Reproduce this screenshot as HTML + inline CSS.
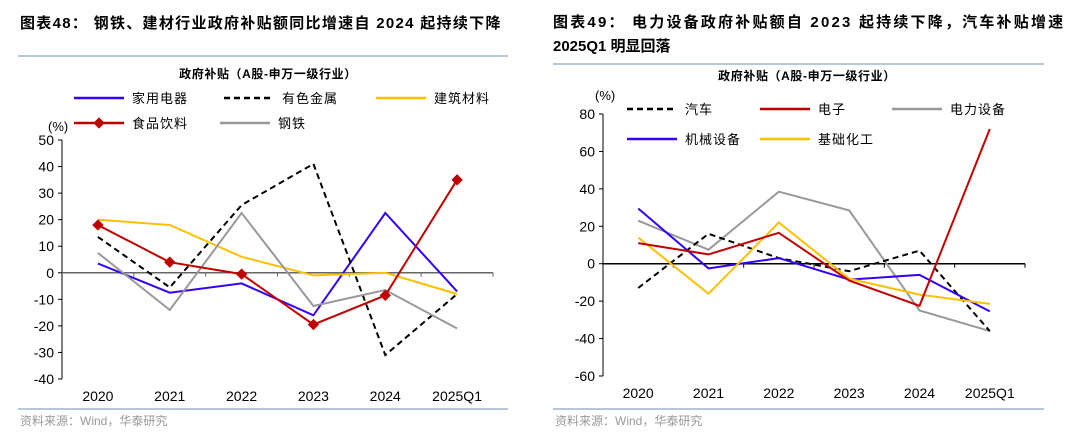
<!DOCTYPE html>
<html><head><meta charset="utf-8">
<style>
html,body{margin:0;padding:0;background:#fff;}
svg{display:block;font-family:"Liberation Sans","Noto Sans CJK SC",sans-serif;}
</style></head>
<body>
<svg id="c" width="1080" height="440" viewBox="0 0 1080 440" xmlns="http://www.w3.org/2000/svg">
<g>
<text x="20" y="28" font-size="15" font-weight="bold" letter-spacing="1.3" fill="#000">图表48：  钢铁、建材行业政府补贴额同比增速自 2024 起持续下降</text>
<line x1="18" y1="56" x2="508" y2="56" stroke="#9fb3cf" stroke-width="1.5"/>
<text x="268" y="78" font-size="12" font-weight="bold" letter-spacing="0.6" text-anchor="middle" fill="#000">政府补贴（A股-申万一级行业）</text>
<text x="48" y="131" font-size="13" fill="#000">(%)</text>
</g>
<g>
<text x="553" y="27" font-size="15" font-weight="bold" letter-spacing="2.2" fill="#000">图表49：  电力设备政府补贴额自  2023  起持续下降，汽车补贴增速</text>
<text x="553" y="51" font-size="15" font-weight="bold" fill="#000">2025Q1 明显回落</text>
<line x1="553" y1="64" x2="1044" y2="64" stroke="#9fb3cf" stroke-width="1.5"/>
<text x="807" y="80" font-size="12" font-weight="bold" letter-spacing="0.6" text-anchor="middle" fill="#000">政府补贴（A股-申万一级行业）</text>
<text x="595" y="100" font-size="13" fill="#000">(%)</text>
</g>
<line x1="18" y1="409" x2="508" y2="409" stroke="#9fb3cf" stroke-width="1.5"/>
<text x="20" y="425" font-size="12" fill="#999">资料来源：Wind，华泰研究</text>
<line x1="553" y1="409" x2="1044" y2="409" stroke="#9fb3cf" stroke-width="1.5"/>
<text x="555" y="425" font-size="12" fill="#999">资料来源：Wind，华泰研究</text>
</svg>
<script>
const categories = ["2020","2021","2022","2023","2024","2025Q1"];
const leftTicks = [50,40,30,20,10,0,-10,-20,-30,-40];
const leftHome = [3.5,-7.5,-4,-16,22.5,-7];
const leftMetal = [13.5,-5.5,25.5,41,-31,-8];
const leftBuild = [20,18,6,-1,0,-8];
const leftFood = [18,4,-0.5,-19.5,-8.5,35];
const leftSteel = [7.5,-14,22.5,-12.5,-6.5,-21];
const rightTicks = [80,60,40,20,0,-20,-40,-60];
const rightAuto = [-13,16,3,-4,7,-36];
const rightElec = [11,5,16.5,-9,-22.5,72];
const rightPower = [23,7.5,38.5,28.5,-25,-36];
const rightMach = [29.5,-2.5,3,-8.5,-6,-25.5];
const rightChem = [14,-16,22,-8,-16.5,-21.5];

const NS="http://www.w3.org/2000/svg";
const svg=document.getElementById('c');
function mk(tag,attrs,parent){const e=document.createElementNS(NS,tag);for(const k in attrs)e.setAttribute(k,attrs[k]);(parent||svg).appendChild(e);return e;}

function drawChart(cfg){
  const g=mk('g',{});
  
  
  const yMax=cfg.ticks[0], yMin=cfg.ticks[cfg.ticks.length-1];
  const y=v=>cfg.yTop+(yMax-v)/(yMax-yMin)*(cfg.yBot-cfg.yTop);
  const bw=(cfg.xR-cfg.xL)/categories.length;
  const x=i=>cfg.xL+bw*(i+0.5);
  const ya=mk('line',{x1:cfg.xL,y1:cfg.yTop,x2:cfg.xL,y2:cfg.yBot,stroke:'#000','stroke-width':1},g);
  
  
  cfg.ticks.forEach(t=>{
    const tk=mk('line',{x1:cfg.xL-4,y1:y(t),x2:cfg.xL,y2:y(t),stroke:'#000'},g);
    
    
    const tl=mk('text',{x:cfg.xL-8,y:y(t)+5,'font-size':14,'text-anchor':'end',fill:'#000'},g);
    tl.textContent=t;
    
    
  });
  const xa=mk('line',{x1:cfg.xL,y1:y(0),x2:cfg.xR,y2:y(0),stroke:cfg.zeroColor,'stroke-width':1.5},g);
  
  
  for(let i=1;i<=categories.length;i++){
    const tk=mk('line',{x1:cfg.xL+bw*i,y1:y(0),x2:cfg.xL+bw*i,y2:y(0)+4,stroke:cfg.zeroColor},g);
    
    
  }
  categories.forEach((c,i)=>{
    const tl=mk('text',{x:x(i),y:cfg.labelY,'font-size':14,'text-anchor':'middle',fill:'#000'},g);
    tl.textContent=c;
    
    
  });
  cfg.series.forEach(s=>{
    const pts=s.data.map((v,i)=>x(i).toFixed(1)+','+y(v).toFixed(1)).join(' ');
    const pl=mk('polyline',{points:pts,fill:'none',stroke:s.color,'stroke-width':2,'stroke-dasharray':s.dash||'none'},g);
    
    
    if(s.marker){s.data.forEach((v,i)=>{
      const m=mk('rect',{x:x(i)-4,y:y(v)-4,width:8,height:8,fill:s.color,transform:`rotate(45 ${x(i)} ${y(v)})`},g);
      
      
    });}
    const lg=mk('g',{},g);
    
    
    mk('line',{x1:s.lx,y1:s.ly,x2:s.lx+50,y2:s.ly,stroke:s.color,'stroke-width':2.5,'stroke-dasharray':s.dash||'none'},lg);
    if(s.marker) mk('rect',{x:s.lx+21,y:s.ly-4,width:8,height:8,fill:s.color,transform:`rotate(45 ${s.lx+25} ${s.ly})`},lg);
    const t=mk('text',{x:s.lx+58,y:s.ly+5,'font-size':13,'letter-spacing':1,fill:'#000'},lg);
    t.textContent=s.name;
  });
}

drawChart({id:'left',ticks:leftTicks,xL:62,xR:493,yTop:140,yBot:379,labelY:401,zeroColor:'#666',series:[
  {key:'home-appliance',name:'家用电器',data:leftHome,color:'#3300ff',lx:74,ly:98},
  {key:'nonferrous-metal',name:'有色金属',data:leftMetal,color:'#000',dash:'6,4',lx:224,ly:98},
  {key:'building-material',name:'建筑材料',data:leftBuild,color:'#ffc000',lx:376,ly:98},
  {key:'steel',name:'钢铁',data:leftSteel,color:'#999',lx:220,ly:123},
  {key:'food-beverage',name:'食品饮料',data:leftFood,color:'#c00000',marker:true,lx:74,ly:123}
]});
drawChart({id:'right',ticks:rightTicks,xL:603,xR:1025,yTop:114,yBot:376,labelY:398,zeroColor:'#000',series:[
  {key:'power-equipment',name:'电力设备',data:rightPower,color:'#999',lx:892,ly:109},
  {key:'auto',name:'汽车',data:rightAuto,color:'#000',dash:'6,4',lx:627,ly:109},
  {key:'machinery',name:'机械设备',data:rightMach,color:'#3300ff',lx:627,ly:139},
  {key:'chemical',name:'基础化工',data:rightChem,color:'#ffc000',lx:760,ly:139},
  {key:'electronics',name:'电子',data:rightElec,color:'#c00000',lx:760,ly:109}
]});
</script>
</body></html>
